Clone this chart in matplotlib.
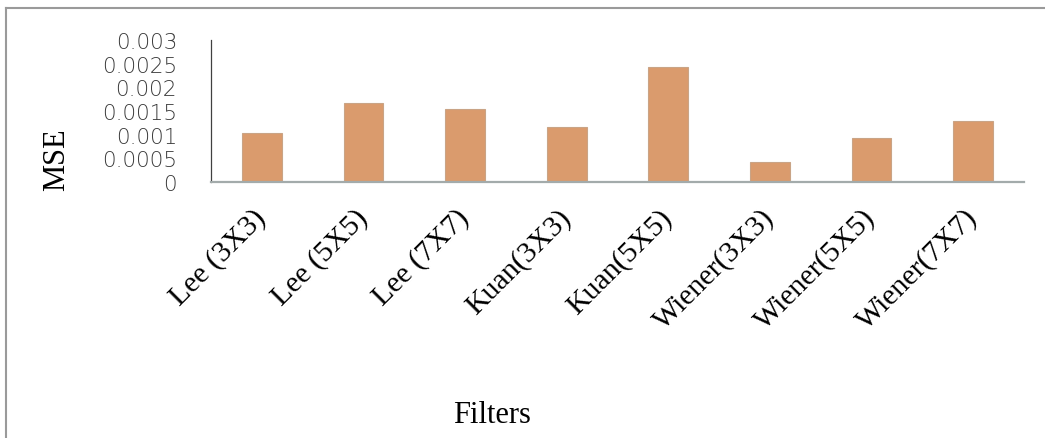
import matplotlib
matplotlib.use("Agg")
import matplotlib.pyplot as plt
from matplotlib.lines import Line2D

filters = ["Lee (3X3)", "Lee (5X5)", "Lee (7X7)", "Kuan(3X3)", "Kuan(5X5)",
           "Wiener(3X3)", "Wiener(5X5)", "Wiener(7X7)"]
mse = [0.00104, 0.00166, 0.00155, 0.00117, 0.00244, 0.00042, 0.00092, 0.00129]
y_ticks = [0, 0.0005, 0.001, 0.0015, 0.002, 0.0025, 0.003]
y_tick_labels = ["0", "0.0005", "0.001", "0.0015", "0.002", "0.0025", "0.003"]

W, H = 1045, 439
PX = 72 / 100  # points per pixel at 100 dpi

fig = plt.figure(figsize=(W / 100, H / 100), dpi=100)
fig.patch.set_facecolor("white")

ax = fig.add_axes([211 / W, 1 - 183 / H, (1024 - 211) / W, (183 - 41) / H])
x = range(len(filters))
ax.bar(x, mse, width=0.39, color="#da9b6d", edgecolor="#c9a486", linewidth=0.8)

ax.set_xlim(-0.5, len(filters) - 0.5)
ax.set_ylim(0, 0.003)
ax.set_yticks(y_ticks)
ax.set_yticklabels(y_tick_labels, fontsize=15.5, family="DejaVu Sans",
                   fontweight="light", color="#3a3a3a")
ax.set_xticks(list(x))
ax.set_xticklabels(filters, rotation=45, ha="right", va="center",
                   rotation_mode="anchor", fontsize=21.5,
                   family="Liberation Serif", color="black")
ax.tick_params(axis="y", length=0, pad=34 * PX)
ax.tick_params(axis="x", length=0, pad=31 * PX)

for side in ("top", "right"):
    ax.spines[side].set_visible(False)
ax.spines["left"].set_color("#404040")
ax.spines["left"].set_linewidth(0.9)
ax.spines["bottom"].set_color("#a3abab")
ax.spines["bottom"].set_linewidth(1.6)

fig.text(57 / W, 1 - 160 / H, "MSE", rotation=90, ha="center", va="center",
         fontsize=22, family="Liberation Serif", color="black")
fig.text(492 / W, 1 - 423 / H, "Filters", ha="center", va="baseline",
         fontsize=22, family="Liberation Serif", color="black")

# outer chart frame (top and left edges)
frame_kw = dict(color="#9a9a9a", linewidth=1.5, transform=fig.transFigure)
fig.add_artist(Line2D([6 / W, 1.0], [1 - 9 / H, 1 - 9 / H], **frame_kw))
fig.add_artist(Line2D([6 / W, 6 / W], [0.0, 1 - 9 / H], **frame_kw))

fig.savefig("out.png", dpi=100)
